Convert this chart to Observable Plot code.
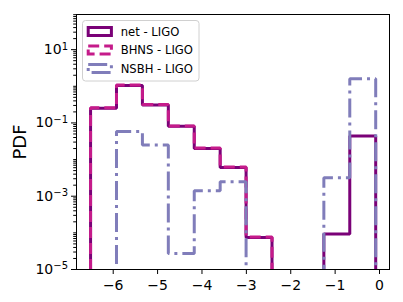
<!DOCTYPE html>
<html>
<head>
<meta charset="utf-8">
<script src="https://cdn.jsdelivr.net/npm/d3@7"></script>
<script src="https://cdn.jsdelivr.net/npm/@observablehq/plot@0.6"></script>
<style>
  html, body { margin: 0; padding: 0; background: white; }
  svg { display: block; }
</style>
</head>
<body>
<div id="chart"></div>
<script>
// Bin edges (shared by all three histograms)
const binEdges = [-6.51, -5.926, -5.342, -4.758, -4.174, -3.59, -3.006, -2.422, -1.838, -1.254, -0.67, -0.086];
// PDF values per bin (0 = empty bin)
const netValues  = [0.25, 1.05, 0.31, 0.081, 0.020, 0.0061, 7.5e-5, 0, 0, 9.3e-5, 0.044];
const bhnsValues = [0.26, 1.08, 0.32, 0.083, 0.0206, 0.0063, 7.7e-5, 0, 0, 0, 0];
const nsbhValues = [0, 0.058, 0.025, 2.75e-5, 0.0014, 0.0025, 0, 0, 0, 0.0032, 1.6];

const seriesNames = ["net - LIGO", "BHNS - LIGO", "NSBH - LIGO"];
const seriesColors = ["#7a0177", "#c51b8a", "#807dba"];
const seriesDash = [null, "11,5", "19,5,3,5"];

const xTicks = [-6, -5, -4, -3, -2, -1, 0];
const yMajorTicks = [1e1, 1e-1, 1e-3, 1e-5];
const yMajorLabels = ["10^1", "10^−1", "10^−3", "10^−5"];
const yMinorTicks = [];
for (let d = -5; d <= 1; d++) for (let k = 1; k <= 9; k++) {
  const v = k * Math.pow(10, d);
  if (k === 1 && yMajorTicks.some(t => Math.abs(t - v) / v < 1e-9)) continue;
  if (v <= 91) yMinorTicks.push(v);
}

const FLOOR = 1e-12; // empty bins drop below the axis (clipped), like a step histogram on log scale
function stepPoints(values) {
  const pts = [{x: binEdges[0], y: FLOOR}];
  values.forEach((v, i) => {
    const y = v > 0 ? v : FLOOR;
    pts.push({x: binEdges[i], y});
    pts.push({x: binEdges[i + 1], y});
  });
  pts.push({x: binEdges[binEdges.length - 1], y: FLOOR});
  return pts;
}
const allValues = [netValues, bhnsValues, nsbhValues];

const chart = Plot.plot({
  width: 403,
  height: 302,
  marginLeft: 76,
  marginRight: 14,
  marginTop: 14,
  marginBottom: 33,
  style: {fontFamily: "DejaVu Sans", fontSize: "14px", color: "black", background: "white"},
  x: {domain: [-6.827, 0.225]},
  y: {type: "log", domain: [1e-5, 91]},
  marks: [
    ...allValues.map((vals, i) => Plot.line(stepPoints(vals), {
      x: "x", y: "y",
      stroke: seriesColors[i],
      strokeWidth: 3,
      strokeDasharray: seriesDash[i],
      strokeLinejoin: "miter",
      strokeLinecap: "butt",
      clip: true
    })),
    Plot.frame({stroke: "black", strokeWidth: 1}),
    Plot.axisX({ticks: xTicks, tickSize: 5, tickPadding: 6, label: null,
      tickFormat: d => d < 0 ? "−" + (-d) : String(d)}),
    Plot.axisY({ticks: yMajorTicks, tickSize: 5, tickPadding: 3.5, label: null,
      tickFormat: d => yMajorLabels[yMajorTicks.indexOf(d)]}),
    Plot.axisY({ticks: yMinorTicks, tickSize: 2.8, label: null, tickFormat: () => ""})
  ]
});
document.getElementById("chart").appendChild(chart);

const svg = d3.select(chart);
// superscript exponents in y tick labels
svg.selectAll('g[aria-label="y-axis tick label"] text').each(function() {
  const t = d3.select(this);
  const s = t.text();
  if (!s.includes("^")) return;
  const [base, exp] = s.split("^");
  t.text(null);
  t.append("tspan").text(base);
  t.append("tspan").attr("dy", "-0.45em").attr("font-size", "10px").text(exp);
});

// y label
svg.append("text")
  .attr("transform", "translate(19.5,142) rotate(-90)")
  .attr("text-anchor", "middle")
  .attr("dy", "0.36em")
  .attr("font-family", "DejaVu Sans")
  .attr("font-size", "18px")
  .attr("fill", "black")
  .text("PDF");

// legend
const lg = svg.append("g")
  .attr("font-family", "DejaVu Sans")
  .attr("font-size", "11.6px")
  .attr("text-anchor", "start");
lg.append("rect")
  .attr("x", 82.5).attr("y", 20.5).attr("width", 116.5).attr("height", 60.5)
  .attr("rx", 3).attr("fill", "white").attr("fill-opacity", 0.8)
  .attr("stroke", "#d0d0d0").attr("stroke-width", 1);
const rowY = [31.5, 50, 68.5];
seriesNames.forEach((name, i) => {
  lg.append("rect")
    .attr("x", 88.2).attr("y", rowY[i] - 4).attr("width", 23.2).attr("height", 8)
    .attr("fill", "none").attr("stroke", seriesColors[i]).attr("stroke-width", 3)
    .attr("stroke-dasharray", seriesDash[i]).attr("stroke-linejoin", "miter");
  lg.append("text")
    .attr("x", 120.7).attr("y", rowY[i]).attr("dy", "0.36em")
    .attr("text-anchor", "start")
    .attr("fill", "black").text(name);
});
</script>
</body>
</html>
